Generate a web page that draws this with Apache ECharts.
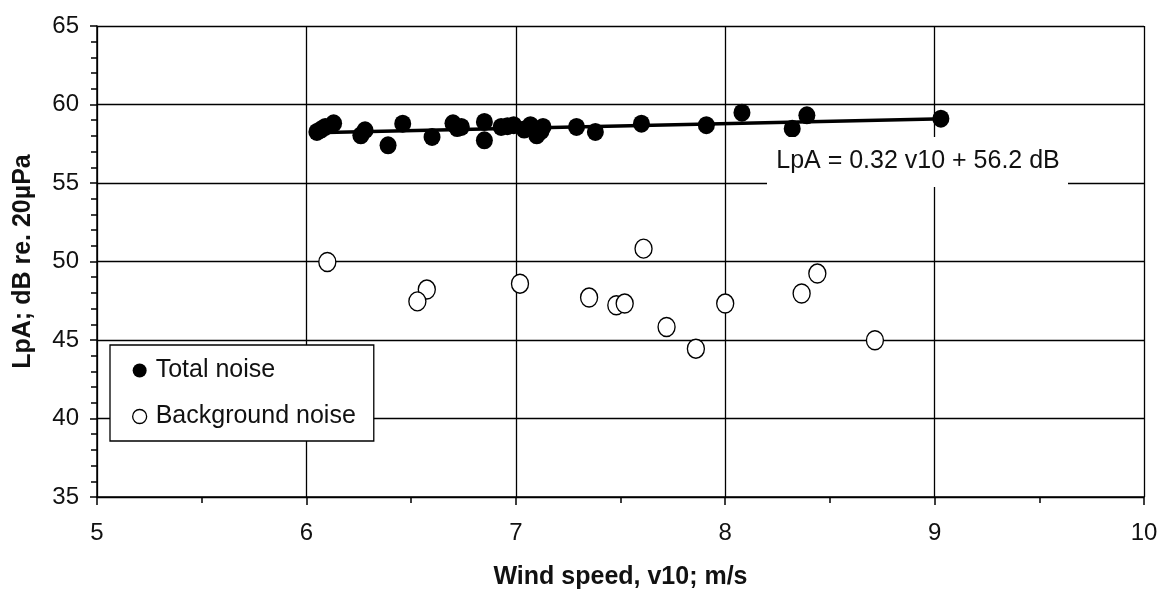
<!DOCTYPE html>
<html>
<head>
<meta charset="utf-8">
<script src="https://cdn.jsdelivr.net/npm/echarts@6/dist/echarts.min.js"></script>
<style>
  html, body { margin: 0; padding: 0; background: #fff; }
  #chart { width: 1165px; height: 590px; }
</style>
</head>
<body>
<div id="chart"></div>
<script>
// total noise (filled dots)
var totalX = [6.05, 6.07, 6.09, 6.13, 6.26, 6.28, 6.39, 6.46, 6.60, 6.70, 6.72, 6.74, 6.85, 6.85, 6.93, 6.96, 6.99, 7.04, 7.07, 7.10, 7.12, 7.13, 7.29, 7.38, 7.60, 7.91, 8.08, 8.32, 8.39, 9.03];
var totalY = [58.25, 58.40, 58.57, 58.80, 58.04, 58.36, 57.40, 58.78, 57.93, 58.80, 58.50, 58.57, 58.89, 57.72, 58.57, 58.62, 58.68, 58.40, 58.68, 58.04, 58.30, 58.57, 58.57, 58.25, 58.78, 58.68, 59.48, 58.46, 59.31, 59.10];
// background noise (open circles)
var bgX = [6.10, 6.575, 6.53, 7.02, 7.35, 7.61, 7.48, 7.52, 7.72, 7.86, 8.00, 8.365, 8.44, 8.715];
var bgY = [49.97, 48.21, 47.46, 48.59, 47.70, 50.82, 47.21, 47.32, 45.83, 44.45, 47.32, 47.96, 49.23, 44.98];
// regression line end points
var fitX = [6.04, 9.05];
var fitY = [58.2, 59.1];

var xTicks = [5, 6, 7, 8, 9, 10];
var yTicks = [35, 40, 45, 50, 55, 60, 65];
var fitLabel = 'LpA = 0.32 v10 + 56.2 dB';

var font = 'Arial, "Liberation Sans", Helvetica, sans-serif';

function pairs(xs, ys) {
  var out = [];
  for (var i = 0; i < xs.length; i++) out.push([xs[i], ys[i]]);
  return out;
}

var chart = echarts.init(document.getElementById('chart'));

var option = {
  animation: false,
  backgroundColor: '#fff',
  textStyle: { fontFamily: font },
  grid: { left: 97, right: 21, top: 26, bottom: 93, containLabel: false, outerBoundsMode: 'none' },
  xAxis: {
    type: 'value',
    min: xTicks[0],
    max: xTicks[xTicks.length - 1],
    interval: 1,
    name: 'Wind speed, v10; m/s',
    nameLocation: 'middle',
    nameGap: 68,
    nameTextStyle: { fontFamily: font, fontSize: 25, fontWeight: 'bold', color: '#111' },
    axisLine: { lineStyle: { color: '#000', width: 1.5 } },
    axisTick: { show: true, length: 8, lineStyle: { color: '#000', width: 1.5 } },
    minorTick: { show: true, splitNumber: 2, length: 6, lineStyle: { color: '#000', width: 1.5 } },
    axisLabel: { fontFamily: font, fontSize: 24, color: '#111', margin: 24 },
    splitLine: { show: true, lineStyle: { color: '#000', width: 1.3 } }
  },
  yAxis: {
    type: 'value',
    min: yTicks[0],
    max: yTicks[yTicks.length - 1],
    interval: 5,
    name: 'LpA; dB re. 20µPa',
    nameLocation: 'middle',
    nameGap: 61,
    nameTextStyle: { fontFamily: font, fontSize: 25, fontWeight: 'bold', color: '#111' },
    axisLine: { show: true, lineStyle: { color: '#000', width: 1.5 } },
    axisTick: { show: true, length: 7, lineStyle: { color: '#000', width: 1.5 } },
    minorTick: { show: true, splitNumber: 5, length: 6, lineStyle: { color: '#000', width: 1.5 } },
    axisLabel: { fontFamily: font, fontSize: 24, color: '#111', margin: 18 },
    splitLine: { show: true, lineStyle: { color: '#000', width: 1.3 } }
  },
  legend: {
    orient: 'vertical',
    left: 110,
    top: 345,
    backgroundColor: '#fff',
    borderColor: '#000',
    borderWidth: 1.3,
    borderRadius: 0,
    padding: [13, 18, 12, 22],
    itemWidth: 14,
    itemHeight: 14,
    itemGap: 21,
    textStyle: { fontFamily: font, fontSize: 25, color: '#111', lineHeight: 24, padding: [0, 0, 0, 4] },
    data: [
      { name: 'Total noise', icon: 'circle', itemStyle: { color: '#000', borderWidth: 0 } },
      { name: 'Background noise', icon: 'circle', itemStyle: { color: '#fff', borderColor: '#000', borderWidth: 1.3 } }
    ]
  },
  graphic: [
    {
      type: 'rect',
      shape: { x: 767, y: 137, width: 301, height: 50 },
      style: { fill: '#fff' },
      z: 10
    },
    {
      type: 'text',
      x: 918,
      y: 161,
      style: {
        text: fitLabel,
        fontFamily: font,
        fontSize: 25,
        fill: '#111',
        align: 'center',
        verticalAlign: 'middle'
      },
      z: 11
    }
  ],
  series: [
    {
      name: 'fit',
      type: 'line',
      data: pairs(fitX, fitY),
      showSymbol: false,
      symbol: 'none',
      lineStyle: { color: '#000', width: 3.5 },
      z: 3
    },
    {
      name: 'Total noise',
      type: 'scatter',
      data: pairs(totalX, totalY),
      symbol: 'circle',
      symbolSize: [17, 18],
      itemStyle: { color: '#000', opacity: 1 },
      z: 4
    },
    {
      name: 'Background noise',
      type: 'scatter',
      data: pairs(bgX, bgY),
      symbol: 'circle',
      symbolSize: [17, 19],
      itemStyle: { color: '#fff', borderColor: '#000', borderWidth: 1.4, opacity: 1 },
      z: 4
    }
  ]
};

option && chart.setOption(option);
</script>
</body>
</html>
